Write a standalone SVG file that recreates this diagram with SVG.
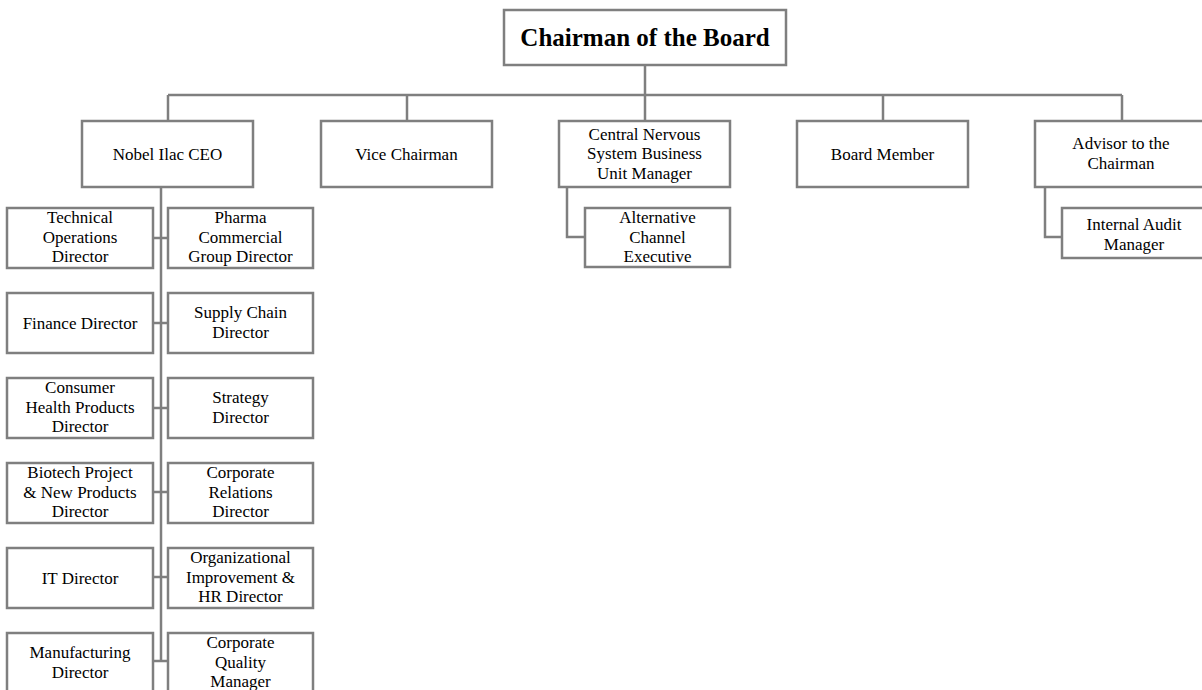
<svg xmlns="http://www.w3.org/2000/svg" width="1202" height="690" viewBox="0 0 1202 690">
<style>
.box{fill:#fff;stroke:#7f7f7f;stroke-width:2.5}
.ln{fill:none;stroke:#7f7f7f;stroke-width:2.5}
text{font-family:"Liberation Serif","Times New Roman",serif;font-size:17px;fill:#000;text-anchor:middle}
.title{font-size:25px;font-weight:bold}
</style>
<rect width="1202" height="690" fill="#fff"/>
<g id="connectors">
<path class="ln" d="M645 65V95M168 95H1122M168 95V121M407 95V121M645 95V121M883 95V121M1122 95V121"/>
<path class="ln" d="M161 187V661"/>
<path class="ln" d="M153 238H168M153 323H168M153 408H168M153 492H168M153 577H168M153 661H168"/>
<path class="ln" d="M567 187V237H585"/>
<path class="ln" d="M1045 187V237H1062"/>
</g>
<g id="chairman"><rect class="box" x="504" y="10" width="282" height="55"/><text class="title" x="645" y="46">Chairman of the Board</text></g>
<g id="ceo"><rect class="box" x="82" y="121" width="171" height="66"/><text x="167.5" y="160">Nobel Ilac CEO</text></g>
<g id="vice"><rect class="box" x="321" y="121" width="171" height="66"/><text x="406.5" y="160">Vice Chairman</text></g>
<g id="cns"><rect class="box" x="559" y="121" width="171" height="66"/><text x="644.5" y="139.5">Central Nervous</text><text x="644.5" y="159">System Business</text><text x="644.5" y="178.5">Unit Manager</text></g>
<g id="board"><rect class="box" x="797" y="121" width="171" height="66"/><text x="882.5" y="160">Board Member</text></g>
<g id="advisor"><rect class="box" x="1035" y="121" width="171" height="66"/><text x="1121" y="148.5">Advisor to the</text><text x="1121" y="168.5">Chairman</text></g>
<g id="altchannel"><rect class="box" x="585" y="208" width="145" height="59"/><text x="657.5" y="223">Alternative</text><text x="657.5" y="242.5">Channel</text><text x="657.5" y="262">Executive</text></g>
<g id="audit"><rect class="box" x="1062" y="208" width="144" height="50"/><text x="1134" y="229.5">Internal Audit</text><text x="1134" y="249.5">Manager</text></g>
<g id="technical"><rect class="box" x="7" y="208" width="146" height="60"/><text x="80" y="223">Technical</text><text x="80" y="242.5">Operations</text><text x="80" y="262">Director</text></g>
<g id="pharma"><rect class="box" x="168" y="208" width="145" height="60"/><text x="240.5" y="223">Pharma</text><text x="240.5" y="242.5">Commercial</text><text x="240.5" y="262">Group Director</text></g>
<g id="finance"><rect class="box" x="7" y="293" width="146" height="60"/><text x="80" y="328.5">Finance Director</text></g>
<g id="supply"><rect class="box" x="168" y="293" width="145" height="60"/><text x="240.5" y="318">Supply Chain</text><text x="240.5" y="338">Director</text></g>
<g id="consumer"><rect class="box" x="7" y="378" width="146" height="60"/><text x="80" y="393">Consumer</text><text x="80" y="412.5">Health Products</text><text x="80" y="432">Director</text></g>
<g id="strategy"><rect class="box" x="168" y="378" width="145" height="60"/><text x="240.5" y="403">Strategy</text><text x="240.5" y="423">Director</text></g>
<g id="biotech"><rect class="box" x="7" y="463" width="146" height="60"/><text x="80" y="478">Biotech Project</text><text x="80" y="497.5">&amp; New Products</text><text x="80" y="517">Director</text></g>
<g id="corprel"><rect class="box" x="168" y="463" width="145" height="60"/><text x="240.5" y="478">Corporate</text><text x="240.5" y="497.5">Relations</text><text x="240.5" y="517">Director</text></g>
<g id="it"><rect class="box" x="7" y="548" width="146" height="60"/><text x="80" y="583.5">IT Director</text></g>
<g id="orgimp"><rect class="box" x="168" y="548" width="145" height="60"/><text x="240.5" y="563">Organizational</text><text x="240.5" y="582.5">Improvement &amp;</text><text x="240.5" y="602">HR Director</text></g>
<g id="manufacturing"><rect class="box" x="7" y="633" width="146" height="60"/><text x="80" y="658">Manufacturing</text><text x="80" y="678">Director</text></g>
<g id="quality"><rect class="box" x="168" y="633" width="145" height="60"/><text x="240.5" y="648">Corporate</text><text x="240.5" y="667.5">Quality</text><text x="240.5" y="687">Manager</text></g>
</svg>
